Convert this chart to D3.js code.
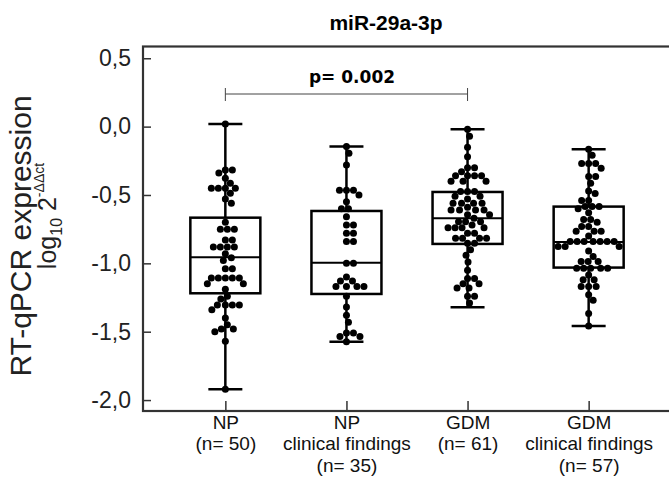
<!DOCTYPE html>
<html>
<head>
<meta charset="utf-8">
<script src="https://cdn.jsdelivr.net/npm/d3@7"></script>
<style>
  body { margin: 0; background: #fff; }
  svg { display: block; }
</style>
</head>
<body>
<script>
// groups on the x axis
const categories = ["NP", "NP clinical findings", "GDM", "GDM clinical findings"];
const labelLines = [["NP", "(n= 50)"], ["NP", "clinical findings", "(n= 35)"], ["GDM", "(n= 61)"], ["GDM", "clinical findings", "(n= 57)"]];

// box summaries
const whiskerHigh = [0.02, -0.146, -0.02, -0.165];
const q3 = [-0.666, -0.617, -0.478, -0.585];
const median = [-0.955, -0.995, -0.67, -0.843];
const q1 = [-1.219, -1.224, -0.858, -1.031];
const whiskerLow = [-1.921, -1.573, -1.321, -1.458];

const yTicks = [0.5, 0, -0.5, -1, -1.5, -2];

// individual samples
const npValues = [0.02, -0.317, -0.317, -0.34, -0.378, -0.414, -0.45, -0.45, -0.45, -0.45, -0.487, -0.53, -0.56,
  -0.7, -0.75, -0.75, -0.75, -0.83, -0.83, -0.88, -0.88, -0.88, -0.88, -0.93, -0.96, -0.98, -1.04, -1.04,
  -1.107, -1.107, -1.107, -1.107, -1.107, -1.15, -1.15, -1.19, -1.24, -1.26, -1.305, -1.305, -1.305, -1.305,
  -1.34, -1.4, -1.45, -1.48, -1.48, -1.5, -1.57, -1.921];
const npClinValues = [-0.146, -0.195, -0.28, -0.465, -0.465, -0.465, -0.5, -0.55, -0.6, -0.6, -0.66, -0.72, -0.72,
  -0.78, -0.78, -0.84, -0.84, -1.0, -1.0, -1.1, -1.13, -1.13, -1.17, -1.17, -1.17, -1.17, -1.24, -1.32, -1.38,
  -1.43, -1.51, -1.51, -1.535, -1.535, -1.573];
const gdmValues = [-0.02, -0.07, -0.15, -0.22, -0.3, -0.3, -0.33, -0.36, -0.36, -0.36, -0.36, -0.4, -0.4, -0.4,
  -0.475, -0.475, -0.475, -0.51, -0.51, -0.53, -0.56, -0.56, -0.56, -0.56, -0.59, -0.61, -0.61, -0.61, -0.61,
  -0.645, -0.645, -0.67, -0.695, -0.695, -0.695, -0.72, -0.74, -0.74, -0.74, -0.74, -0.78, -0.78, -0.817, -0.817,
  -0.817, -0.817, -0.853, -0.853, -0.9, -0.94, -0.99, -1.05, -1.11, -1.11, -1.15, -1.15, -1.18, -1.18, -1.24,
  -1.24, -1.29];
const gdmClinValues = [-0.165, -0.21, -0.27, -0.27, -0.27, -0.305, -0.365, -0.365, -0.415, -0.47, -0.49, -0.54,
  -0.54, -0.585, -0.585, -0.585, -0.6, -0.63, -0.68, -0.68, -0.7, -0.73, -0.73, -0.765, -0.765, -0.765, -0.8,
  -0.84, -0.84, -0.84, -0.84, -0.84, -0.84, -0.84, -0.876, -0.876, -0.876, -0.91, -0.95, -0.987, -0.987, -0.987,
  -1.035, -1.035, -1.035, -1.035, -1.035, -1.085, -1.12, -1.12, -1.17, -1.17, -1.17, -1.23, -1.27, -1.366, -1.458];
const groupValues = [npValues, npClinValues, gdmValues, gdmClinValues];

const W = 669, H = 497;
const plot = {left: 143, top: 46.5, right: 671, bottom: 411};

const svg = d3.select("body").append("svg").attr("width", W).attr("height", H);

const y = d3.scaleLinear().domain([-2.08, 0.586]).range([plot.bottom, plot.top]);
const x = d3.scalePoint().domain(categories).range([plot.left, plot.right]).padding(0.68);

const fmt = d3.formatLocale({decimal: ",", thousands: ".", grouping: [3], currency: ["", ""], minus: "-"}).format(".1f");

// axes
const yAxis = svg.append("g")
  .attr("transform", `translate(${plot.left},0)`)
  .call(d3.axisLeft(y).tickValues(yTicks).tickSize(-8).tickPadding(12).tickFormat(fmt));
yAxis.select(".domain").remove();
yAxis.selectAll("line").attr("stroke", "#333").attr("stroke-width", 1.5);
yAxis.selectAll("text").attr("font-family", "Liberation Sans, Arial, sans-serif").attr("font-size", 23).attr("fill", "#222");

const xAxis = svg.append("g")
  .attr("transform", `translate(0,${plot.bottom})`)
  .call(d3.axisBottom(x).tickSize(-10).tickFormat(""));
xAxis.select(".domain").remove();
xAxis.selectAll("line").attr("stroke", "#333").attr("stroke-width", 1.5);

// x labels, several lines each
xAxis.selectAll(".tick").each(function(d, i) {
  const t = d3.select(this).append("text")
    .attr("fill", "#111")
    .attr("font-family", "Liberation Sans, Arial, sans-serif")
    .attr("font-size", 19)
    .attr("text-anchor", "middle");
  labelLines[i].forEach((line, k) => {
    t.append("tspan").attr("x", 0).attr("y", 18 + k * 21.4).text(line);
  });
});

// frame
svg.append("rect")
  .attr("x", plot.left).attr("y", plot.top)
  .attr("width", plot.right - plot.left).attr("height", plot.bottom - plot.top)
  .attr("fill", "none").attr("stroke", "#333").attr("stroke-width", 2.2);

// boxes
const boxW = 70, capW = 34;
const groups = svg.append("g").selectAll("g")
  .data(categories)
  .join("g");

groups.append("line")
  .attr("x1", d => x(d)).attr("x2", d => x(d))
  .attr("y1", (d, i) => y(whiskerHigh[i])).attr("y2", (d, i) => y(whiskerLow[i]))
  .attr("stroke", "#000").attr("stroke-width", 2.5);
groups.append("line")
  .attr("x1", d => x(d) - capW / 2).attr("x2", d => x(d) + capW / 2)
  .attr("y1", (d, i) => y(whiskerHigh[i])).attr("y2", (d, i) => y(whiskerHigh[i]))
  .attr("stroke", "#000").attr("stroke-width", 2.5);
groups.append("line")
  .attr("x1", d => x(d) - capW / 2).attr("x2", d => x(d) + capW / 2)
  .attr("y1", (d, i) => y(whiskerLow[i])).attr("y2", (d, i) => y(whiskerLow[i]))
  .attr("stroke", "#000").attr("stroke-width", 2.5);
groups.append("rect")
  .attr("x", d => x(d) - boxW / 2).attr("width", boxW)
  .attr("y", (d, i) => y(q3[i])).attr("height", (d, i) => y(q1[i]) - y(q3[i]))
  .attr("fill", "#fff").attr("stroke", "#000").attr("stroke-width", 2.5);
groups.append("line")
  .attr("x1", d => x(d) - boxW / 2).attr("x2", d => x(d) + boxW / 2)
  .attr("y1", (d, i) => y(median[i])).attr("y2", (d, i) => y(median[i]))
  .attr("stroke", "#000").attr("stroke-width", 2);

// simple beeswarm
const r = 3.5;
function swarm(values, cx) {
  const placed = [];
  values.slice().sort((a, b) => b - a).forEach(v => {
    const py = y(v);
    for (let k = 0; k < 400; k++) {
      const off = (k % 2 ? 1 : -1) * Math.ceil(k / 2) * 0.5;
      const px = cx + off;
      if (placed.every(p => (p.x - px) ** 2 + (p.y - py) ** 2 >= (2 * r) ** 2)) {
        placed.push({x: px, y: py});
        break;
      }
    }
  });
  return placed;
}

categories.forEach((c, i) => {
  svg.append("g").selectAll("circle")
    .data(swarm(groupValues[i], x(c)))
    .join("circle")
    .attr("cx", d => d.x).attr("cy", d => d.y).attr("r", r)
    .attr("fill", "#000");
});

// significance bracket
const bY = 94;
svg.append("path")
  .attr("d", `M${x(categories[0])},${bY - 6}V${bY + 7}M${x(categories[0])},${bY}H${x(categories[2])}M${x(categories[2])},${bY - 6}V${bY + 7}`)
  .attr("fill", "none").attr("stroke", "#444").attr("stroke-width", 1);
svg.append("text")
  .attr("x", 352).attr("y", 83)
  .attr("text-anchor", "middle")
  .attr("font-family", "DejaVu Sans, sans-serif").attr("font-weight", "bold").attr("font-size", 17)
  .text("p= 0.002");

// title
svg.append("text")
  .attr("x", 386).attr("y", 30)
  .attr("text-anchor", "middle")
  .attr("font-family", "Liberation Sans, Arial, sans-serif").attr("font-weight", "bold").attr("font-size", 21)
  .text("miR-29a-3p");

// y title, two lines
svg.append("text")
  .attr("transform", "translate(31,236) rotate(-90)")
  .attr("text-anchor", "middle")
  .attr("font-family", "Liberation Sans, Arial, sans-serif").attr("font-size", 30).attr("fill", "#222")
  .text("RT-qPCR expression");
const sub = svg.append("text")
  .attr("transform", "translate(56,216) rotate(-90)")
  .attr("text-anchor", "middle")
  .attr("font-family", "Liberation Sans, Arial, sans-serif").attr("font-size", 25).attr("fill", "#222");
sub.append("tspan").text("log");
sub.append("tspan").attr("font-size", 16).attr("dy", 6).text("10");
sub.append("tspan").attr("dy", -6).text(" 2");
sub.append("tspan").attr("font-size", 14).attr("dy", -12).text("-ΔΔct");
</script>
</body>
</html>
